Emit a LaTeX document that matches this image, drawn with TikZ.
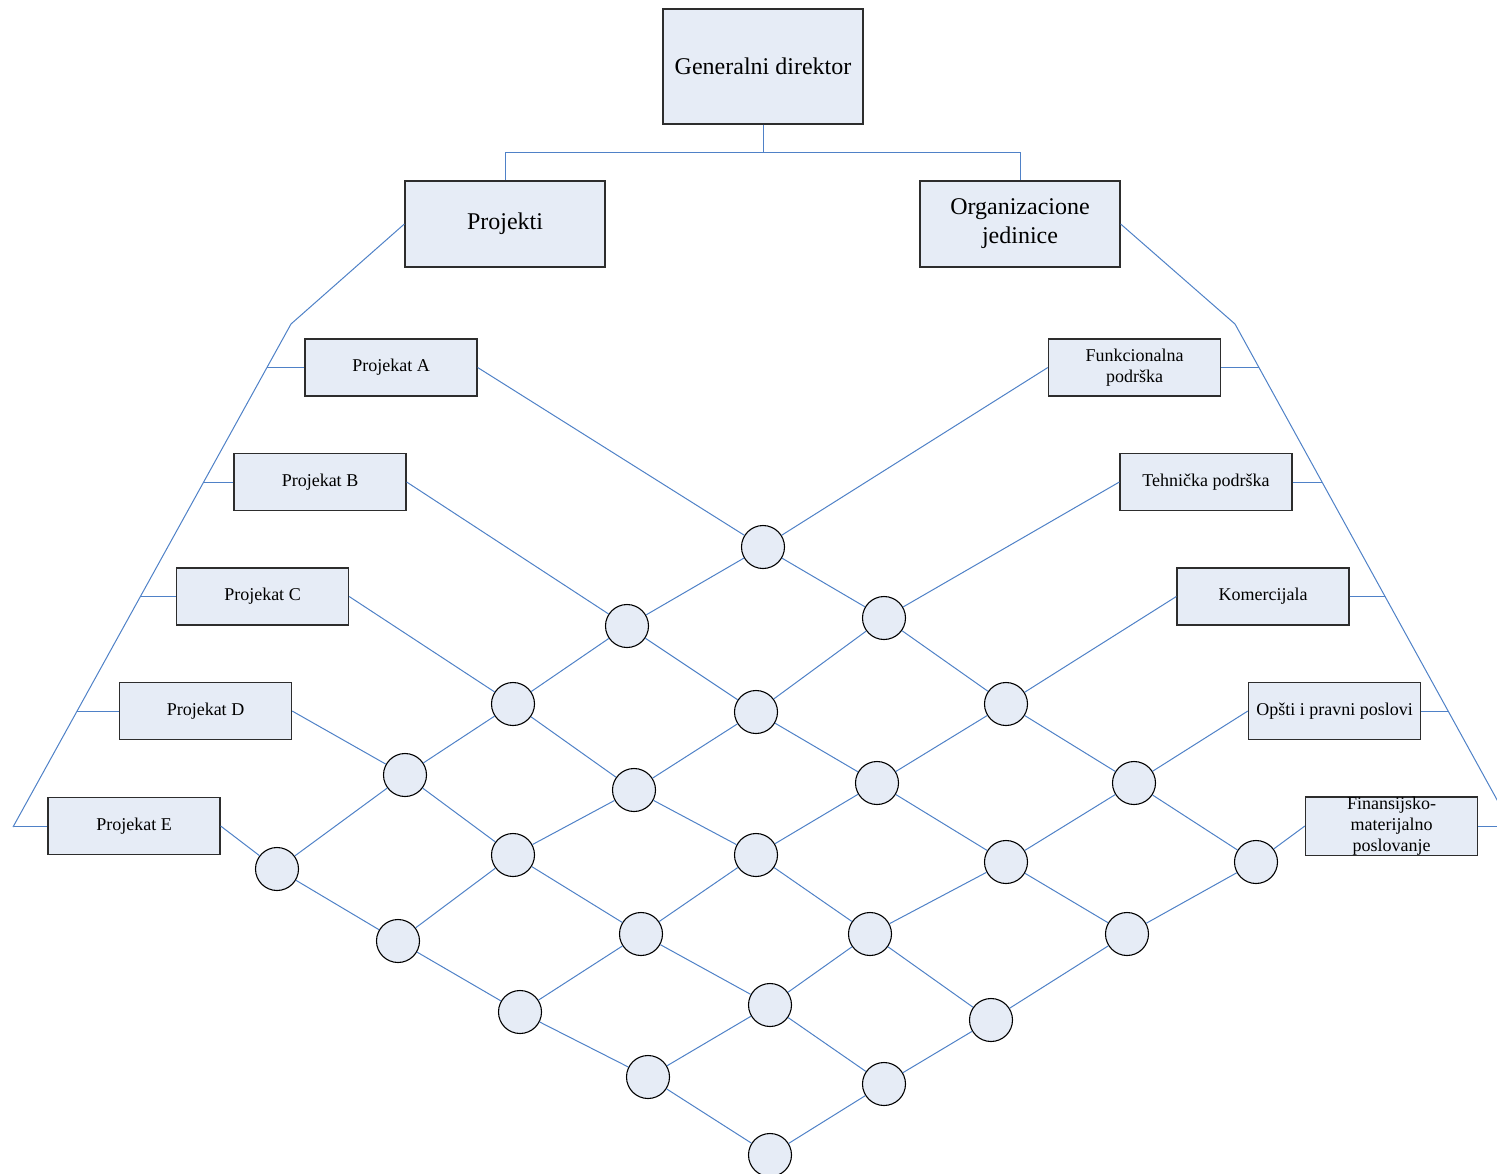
\documentclass[tikz,border=0pt]{standalone}
\usepackage{fontspec}
\setmainfont{Liberation Serif}
\definecolor{boxfill}{RGB}{230,236,246}
\definecolor{boxline}{RGB}{45,45,45}
\definecolor{linkblue}{RGB}{79,129,199}
\begin{document}
\begin{tikzpicture}[x=1pt,y=-1pt,
  bigbox/.style={draw=boxline, line width=1.3pt, fill=boxfill, minimum width=200pt, inner sep=0pt, align=center, font=\fontsize{24}{29}\selectfont},
  smallbox/.style={draw=boxline, line width=1.3pt, fill=boxfill, minimum width=172pt, minimum height=57pt, inner sep=0pt, align=center, font=\fontsize{18}{21}\selectfont},
  hub/.style={circle, draw=black, line width=1.1pt, fill=boxfill, minimum size=43pt, inner sep=0pt},
  link/.style={draw=linkblue, line width=1pt}]
\useasboundingbox (0,0) rectangle (1497,1173);
\clip (0,0) rectangle (1497,1173);

% top boxes
\node[bigbox, minimum height=115pt] (gd) at (763,66.5) {Generalni direktor};
\node[bigbox, minimum height=86pt] (pro) at (505,224) {Projekti};
\node[bigbox, minimum height=86pt] (org) at (1020,224) {Organizacione\\jedinice};

% project boxes
\node[smallbox] (pa) at (391,367.5) {Projekat A};
\node[smallbox] (pb) at (320,482) {Projekat B};
\node[smallbox] (pc) at (262.5,596.5) {Projekat C};
\node[smallbox] (pd) at (205.5,711) {Projekat D};
\node[smallbox] (pe) at (134,826) {Projekat E};

% organisational boxes
\node[smallbox] (o1) at (1134.5,367.5) {Funkcionalna\\podrška};
\node[smallbox] (o2) at (1206,482) {Tehnička podrška};
\node[smallbox] (o3) at (1263,596.5) {Komercijala};
\node[smallbox] (o4) at (1334.5,711) {Opšti i pravni poslovi};
\node[smallbox] (o5) at (1391.5,826) {Finansijsko-\\materijalno\\poslovanje};

% hubs
\node[hub] (c11) at (763,547) {};
\node[hub] (c12) at (884,618) {};
\node[hub] (c13) at (1006,704) {};
\node[hub] (c14) at (1134,783) {};
\node[hub] (c15) at (1256,862) {};
\node[hub] (c21) at (627,626) {};
\node[hub] (c22) at (756,712) {};
\node[hub] (c23) at (877,783) {};
\node[hub] (c24) at (1006,862) {};
\node[hub] (c25) at (1127,934) {};
\node[hub] (c31) at (513,704) {};
\node[hub] (c32) at (634,790) {};
\node[hub] (c33) at (756,855) {};
\node[hub] (c34) at (870,934) {};
\node[hub] (c35) at (991,1020) {};
\node[hub] (c41) at (405,775) {};
\node[hub] (c42) at (513,855) {};
\node[hub] (c43) at (641,934) {};
\node[hub] (c44) at (770,1005) {};
\node[hub] (c45) at (884,1084) {};
\node[hub] (c51) at (277,869) {};
\node[hub] (c52) at (398,941) {};
\node[hub] (c53) at (520,1012) {};
\node[hub] (c54) at (648,1077) {};
\node[hub] (c55) at (770,1155) {};

% hierarchy
\draw[link] (gd.south) -- ++(0,28) -| (pro.north);
\draw[link] (gd.south) -- ++(0,28) -| (org.north);

% brackets
\coordinate (lb1) at (291,324);
\coordinate (lb2) at (13,827);
\coordinate (rb1) at (1235,324);
\coordinate (rb2) at (1512,827);
\draw[link] (pro.west) -- (lb1) -- (lb2);
\draw[link] (org.east) -- (rb1) -- (rb2);

\coordinate (lt1) at (267.2,367.5);
\coordinate (lt2) at (203.7,482);
\coordinate (lt3) at (140.1,596.5);
\coordinate (lt4) at (77.1,711);
\coordinate (lt5) at (13.5,826);
\draw[link] (lt1) -- (pa.west);
\draw[link] (lt2) -- (pb.west);
\draw[link] (lt3) -- (pc.west);
\draw[link] (lt4) -- (pd.west);
\draw[link] (lt5) -- (pe.west);

\coordinate (rt1) at (1258.9,367.5);
\coordinate (rt2) at (1321.9,482);
\coordinate (rt3) at (1384.9,596.5);
\coordinate (rt4) at (1447.9,711);
\coordinate (rt5) at (1511,826);
\draw[link] (o1.east) -- (rt1);
\draw[link] (o2.east) -- (rt2);
\draw[link] (o3.east) -- (rt3);
\draw[link] (o4.east) -- (rt4);
\draw[link] (o5.east) -- (rt5);

% project lines
\draw[link] (pa.east) -- (c11) -- (c12) -- (c13) -- (c14) -- (c15);
\draw[link] (pb.east) -- (c21) -- (c22) -- (c23) -- (c24) -- (c25);
\draw[link] (pc.east) -- (c31) -- (c32) -- (c33) -- (c34) -- (c35);
\draw[link] (pd.east) -- (c41) -- (c42) -- (c43) -- (c44) -- (c45);
\draw[link] (pe.east) -- (c51) -- (c52) -- (c53) -- (c54) -- (c55);

% organisational lines
\draw[link] (o1.west) -- (c11) -- (c21) -- (c31) -- (c41) -- (c51);
\draw[link] (o2.west) -- (c12) -- (c22) -- (c32) -- (c42) -- (c52);
\draw[link] (o3.west) -- (c13) -- (c23) -- (c33) -- (c43) -- (c53);
\draw[link] (o4.west) -- (c14) -- (c24) -- (c34) -- (c44) -- (c54);
\draw[link] (o5.west) -- (c15) -- (c25) -- (c35) -- (c45) -- (c55);
\end{tikzpicture}
\end{document}
